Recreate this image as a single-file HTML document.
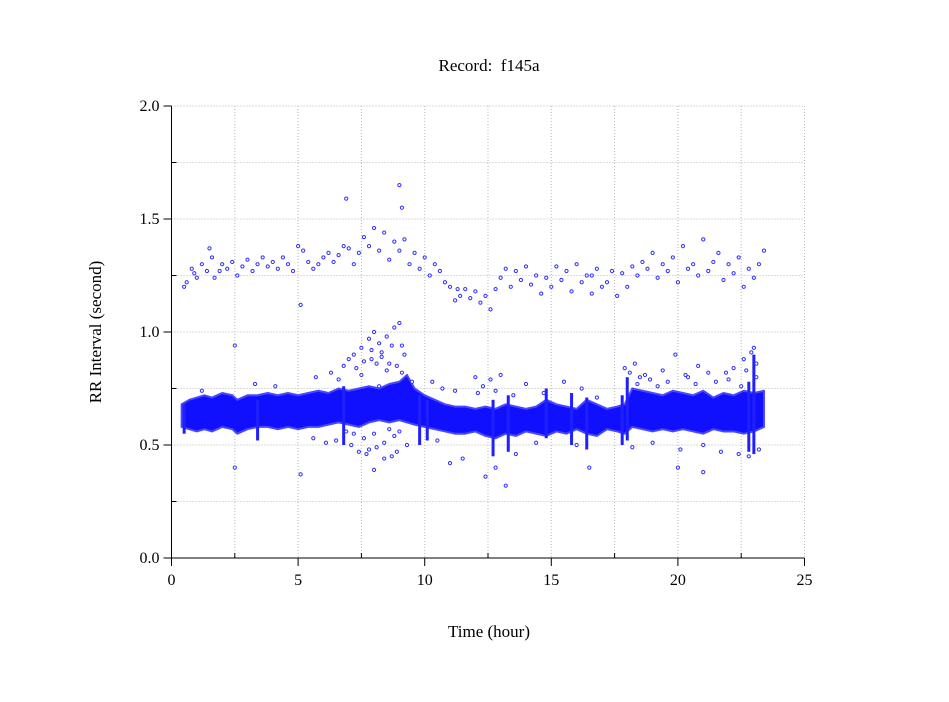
<!DOCTYPE html>
<html><head><meta charset="utf-8"><style>
body{margin:0;background:#fff;}
svg text{font-family:"Liberation Serif",serif;fill:#000;}
</style></head><body>
<svg id="chart" width="949" height="697" viewBox="0 0 949 697" xmlns="http://www.w3.org/2000/svg">
<text x="489" y="71" font-size="17" text-anchor="middle">Record:&#160; f145a</text>
<text x="489" y="637" font-size="17" text-anchor="middle">Time (hour)</text>
<text x="0" y="0" font-size="17" text-anchor="middle" transform="translate(101,332) rotate(-90)">RR Interval (second)</text>
<g id="grid"></g>
<g id="band"></g>
<g id="pts"></g>
<g id="axes"></g>
</svg>
<script>
const xTicks=[0,5,10,15,20,25];
const yTicks=[0.0,0.5,1.0,1.5,2.0];
const yTickLabels=["0.0","0.5","1.0","1.5","2.0"];
// dense band: time (hour), lower/upper bound of core RR values
const bandT=[0.4,0.7,1.0,1.3,1.6,2.0,2.4,2.6,3.0,3.4,3.8,4.2,4.6,5.0,5.4,5.8,6.2,6.6,7.0,7.4,7.8,8.2,8.6,9.0,9.3,9.6,10.0,10.4,10.8,11.2,11.6,12.0,12.4,12.8,13.2,13.6,14.0,14.4,14.8,15.2,15.6,16.0,16.4,16.8,17.2,17.6,17.9,18.2,18.6,19.0,19.4,19.8,20.2,20.6,21.0,21.4,21.8,22.2,22.6,23.0,23.4];
const bandLo=[0.58,0.57,0.56,0.57,0.56,0.58,0.57,0.55,0.57,0.58,0.58,0.57,0.58,0.57,0.58,0.58,0.59,0.60,0.59,0.58,0.60,0.61,0.60,0.61,0.60,0.59,0.58,0.57,0.56,0.55,0.55,0.56,0.54,0.53,0.55,0.54,0.56,0.55,0.54,0.56,0.55,0.57,0.55,0.54,0.57,0.56,0.55,0.58,0.57,0.56,0.57,0.56,0.57,0.56,0.55,0.57,0.56,0.56,0.55,0.56,0.58];
const bandHi=[0.68,0.70,0.71,0.72,0.71,0.73,0.72,0.70,0.72,0.72,0.73,0.72,0.73,0.72,0.73,0.74,0.73,0.75,0.74,0.75,0.76,0.75,0.77,0.78,0.81,0.75,0.72,0.70,0.68,0.67,0.67,0.66,0.67,0.66,0.68,0.67,0.66,0.67,0.70,0.68,0.67,0.66,0.70,0.68,0.66,0.67,0.68,0.75,0.74,0.73,0.72,0.74,0.73,0.72,0.74,0.71,0.73,0.72,0.74,0.73,0.74];
// vertical spike episodes: time, min, max
const spikeT=[0.5,3.4,6.8,9.8,10.1,12.7,13.3,14.8,15.8,16.4,17.8,18.0,22.8,23.0];
const spikeLo=[0.55,0.52,0.50,0.50,0.52,0.45,0.47,0.53,0.50,0.48,0.50,0.52,0.47,0.46];
const spikeHi=[0.68,0.70,0.76,0.72,0.70,0.70,0.72,0.75,0.73,0.71,0.72,0.80,0.78,0.90];
// upper cluster (second-beat / missed-beat intervals)
const upT=[0.5,0.6,0.8,0.9,1.0,1.2,1.4,1.5,1.6,1.7,1.9,2.0,2.2,2.4,2.6,2.8,3.0,3.2,3.4,3.6,3.8,4.0,4.2,4.4,4.6,4.8,5.0,5.2,5.4,5.6,5.8,6.0,6.2,6.4,6.6,6.8,7.0,7.2,7.4,7.6,7.8,8.0,8.2,8.4,8.6,8.8,9.0,9.2,9.4,9.6,9.8,10.0,10.2,10.4,10.6,10.8,11.0,11.2,11.4,11.6,11.8,12.0,12.2,12.4,12.6,12.8,13.0,13.2,13.4,13.6,13.8,14.0,14.2,14.4,14.6,14.8,15.0,15.2,15.4,15.6,15.8,16.0,16.2,16.4,16.6,16.8,17.0,17.2,17.4,17.6,17.8,18.0,18.2,18.4,18.6,18.8,19.0,19.2,19.4,19.6,19.8,20.0,20.2,20.4,20.6,20.8,21.0,21.2,21.4,21.6,21.8,22.0,22.2,22.4,22.6,22.8,23.0,23.2,23.4,6.9,9.0,9.1,2.5,5.1,11.3,16.6];
const upV=[1.20,1.22,1.28,1.26,1.24,1.30,1.27,1.37,1.33,1.24,1.27,1.30,1.28,1.31,1.25,1.29,1.32,1.27,1.30,1.33,1.29,1.31,1.28,1.33,1.30,1.27,1.38,1.36,1.31,1.28,1.30,1.33,1.35,1.31,1.34,1.38,1.37,1.30,1.35,1.42,1.38,1.46,1.36,1.44,1.32,1.40,1.36,1.41,1.30,1.35,1.28,1.33,1.25,1.30,1.27,1.22,1.20,1.14,1.16,1.19,1.15,1.18,1.13,1.16,1.10,1.19,1.24,1.28,1.20,1.27,1.23,1.29,1.21,1.25,1.17,1.24,1.20,1.29,1.23,1.27,1.18,1.30,1.22,1.25,1.17,1.28,1.20,1.22,1.27,1.16,1.26,1.20,1.29,1.25,1.31,1.28,1.35,1.24,1.30,1.27,1.33,1.22,1.38,1.28,1.30,1.25,1.41,1.27,1.31,1.35,1.23,1.30,1.26,1.33,1.20,1.28,1.24,1.30,1.36,1.59,1.65,1.55,0.94,1.12,1.19,1.25];
// scattered outliers around the band
const outT=[5.7,6.3,6.8,7.0,7.2,7.5,7.6,7.8,7.9,8.0,8.2,8.3,8.5,8.6,8.8,9.0,9.1,9.2,7.1,7.4,7.7,8.1,8.4,8.7,8.9,9.3,6.5,6.1,5.6,10.3,10.7,12.0,12.3,12.6,12.8,13.0,13.5,14.0,14.7,15.5,16.2,16.8,17.9,18.1,18.3,18.5,18.9,19.4,19.9,20.3,20.8,21.5,21.9,22.2,22.6,22.9,23.0,23.1,18.2,19.0,20.1,21.0,21.7,22.4,22.8,23.2,2.5,5.1,8.0,11.0,11.5,12.4,12.8,13.2,16.5,20.0,21.0,4.1,3.3,1.2,
7.3,7.5,7.9,8.1,8.3,8.5,8.7,8.9,9.1,7.6,8.0,8.4,8.8,6.9,6.6,18.4,18.7,19.2,19.6,20.4,20.7,21.2,22.0,22.5,23.1,22.7,9.5,10.5,11.2,14.4,16.0,12.1,13.6,7.8,8.2,8.6,9.0,7.2];
const outV=[0.80,0.82,0.85,0.88,0.90,0.93,0.87,0.97,0.92,1.00,0.95,0.89,0.98,0.86,1.02,1.04,0.94,0.90,0.50,0.47,0.46,0.49,0.44,0.45,0.47,0.50,0.52,0.51,0.53,0.78,0.75,0.80,0.76,0.79,0.74,0.81,0.72,0.77,0.73,0.78,0.75,0.71,0.84,0.82,0.86,0.80,0.79,0.83,0.90,0.81,0.85,0.78,0.82,0.84,0.88,0.91,0.93,0.86,0.49,0.51,0.48,0.50,0.47,0.46,0.45,0.48,0.40,0.37,0.39,0.42,0.44,0.36,0.40,0.32,0.40,0.40,0.38,0.76,0.77,0.74,
0.84,0.81,0.88,0.86,0.91,0.83,0.94,0.85,0.82,0.53,0.55,0.51,0.54,0.56,0.79,0.77,0.81,0.76,0.78,0.80,0.77,0.82,0.79,0.76,0.80,0.83,0.78,0.52,0.74,0.51,0.50,0.73,0.46,0.48,0.76,0.57,0.56,0.55,0.58,0.57];
const X0=171.5,X1=804.5,Y0=558,Y1=106;
const xs=t=>X0+(t/25)*(X1-X0);
const ys=v=>Y0-(v/2)*(Y0-Y1);
const NS="http://www.w3.org/2000/svg";
function mk(tag,attrs,parent){const e=document.createElementNS(NS,tag);for(const k in attrs)e.setAttribute(k,attrs[k]);parent.appendChild(e);return e;}
const grid=document.getElementById('grid'),axes=document.getElementById('axes'),band=document.getElementById('band'),pts=document.getElementById('pts');
for(let t=2.5;t<=25;t+=2.5){const l=mk('line',{x1:xs(t),x2:xs(t),y1:Y1,y2:Y0,stroke:'#b8b8b8','stroke-dasharray':'1,2'},grid);

}
for(let v=0.25;v<=2.001;v+=0.25){const l=mk('line',{x1:X0,x2:X1,y1:ys(v),y2:ys(v),stroke:'#b8b8b8','stroke-dasharray':'1,2'},grid);

}
let d='M'+bandT.map((t,i)=>xs(t)+','+ys(bandHi[i])).join(' L');
d+=' L'+bandT.slice().reverse().map((t,j)=>{const i=bandT.length-1-j;return xs(t)+','+ys(bandLo[i]);}).join(' L')+'Z';
const bp=mk('path',{d:d,fill:'#1010ff',stroke:'#4848ff','stroke-width':2,'stroke-linejoin':'round'},band);


spikeT.forEach((t,i)=>{const r=mk('rect',{x:xs(t)-1.5,y:ys(spikeHi[i]),width:3,height:ys(spikeLo[i])-ys(spikeHi[i]),fill:'#2020ff'},band);

});
function dot(t,v,name){const c=mk('circle',{cx:xs(t),cy:ys(v),r:1.6,fill:'#fff',stroke:'#3030ff','stroke-width':1},pts);

}
upT.forEach((t,i)=>dot(t,upV[i],'upper-point'));
outT.forEach((t,i)=>dot(t,outV[i],'outlier-point'));
const xa=mk('line',{x1:X0,x2:X1,y1:Y0,y2:Y0,stroke:'#000'},axes);


const ya=mk('line',{x1:X0,x2:X0,y1:Y0,y2:Y1,stroke:'#000'},axes);


xTicks.forEach(t=>{mk('line',{x1:xs(t),x2:xs(t),y1:Y0,y2:Y0+8,stroke:'#000'},axes);
const tx=mk('text',{x:xs(t),y:Y0+27,'font-size':16,'text-anchor':'middle'},axes);tx.textContent=t;

});
for(let t=2.5;t<25;t+=5){mk('line',{x1:xs(t),x2:xs(t),y1:Y0,y2:Y0-5,stroke:'#000'},axes);}
yTicks.forEach((v,i)=>{mk('line',{x1:X0-8,x2:X0,y1:ys(v),y2:ys(v),stroke:'#000'},axes);
const tx=mk('text',{x:X0-12,y:ys(v)+5,'font-size':16,'text-anchor':'end'},axes);tx.textContent=yTickLabels[i];

});
for(let v=0.25;v<2;v+=0.5){mk('line',{x1:X0,x2:X0+5,y1:ys(v),y2:ys(v),stroke:'#000'},axes);}
</script>
</body></html>
